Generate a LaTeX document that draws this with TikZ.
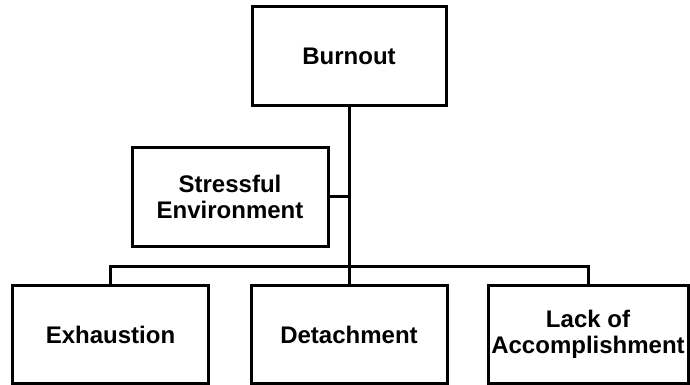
\documentclass[tikz,border=0pt]{standalone}
\usepackage{fontspec}
\setmainfont{Liberation Sans}
\begin{document}
\begin{tikzpicture}[x=1pt,y=-1pt,
  box/.style={draw, line width=3pt, minimum width=196pt, minimum height=98pt,
    inner sep=1pt, align=center,
    font=\fontsize{24}{26}\selectfont\bfseries},
  link/.style={line width=3pt}]
\useasboundingbox (0,0) rectangle (690,385);
% boxes
\node[box, minimum width=194pt, minimum height=99pt] (burnout) at (349,56.5) {Burnout};
\node[box, minimum height=99pt] (stress) at (230,196.5) {Stressful\\Environment};
\node[box] (exh) at (110.5,334.5) {Exhaustion};
\node[box] (det) at (349,334.5) {Detachment};
\node[box, minimum width=200pt] (lack) at (588,334.5) {Lack of\\Accomplishment};
% connectors
\coordinate (hub) at (349,266);
\draw[link] (burnout.south) -- (hub);
\draw[link] (stress.east) -- (stress.east -| hub);
\draw[link] (exh.north) |- (hub) -| (lack.north);
\draw[link] (hub) -- (det.north);
\end{tikzpicture}
\end{document}
